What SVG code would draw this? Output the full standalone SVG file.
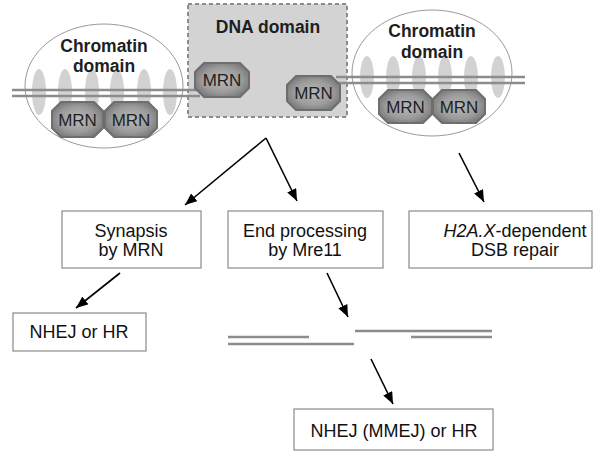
<svg xmlns="http://www.w3.org/2000/svg" width="600" height="457" viewBox="0 0 600 457">
<style>
.bold{font-family:"Liberation Sans",Arial,sans-serif;font-weight:bold;font-size:17.5px;fill:#1e1e1e;text-anchor:middle}
.mrn{font-family:"Liberation Sans",Arial,sans-serif;font-size:17px;fill:#222;text-anchor:middle}
.lbl{font-family:"Liberation Sans",Arial,sans-serif;font-size:18px;fill:#111;text-anchor:middle}
.box{fill:#fff;stroke:#8a8a8a;stroke-width:1.2}
.dom{fill:#fff;stroke:#9a9a9a;stroke-width:1}
.nuc{fill:#d2d2d2}
.dna{stroke:#8c8c8c;stroke-width:2.5;fill:none}
.oct{fill:url(#mg);stroke:#6e6e6e;stroke-width:2}
.arr{stroke:#000;stroke-width:1.6;fill:none;marker-end:url(#ah)}
</style>
<defs>
<radialGradient id="mg" cx="0.5" cy="0.5" r="0.6">
<stop offset="0" stop-color="#b8b8b8"/>
<stop offset="0.6" stop-color="#9c9c9c"/>
<stop offset="1" stop-color="#727272"/>
</radialGradient>
<marker id="ah" viewBox="0 0 12 10" refX="12" refY="5" markerWidth="12" markerHeight="10" markerUnits="userSpaceOnUse" orient="auto">
<path d="M0,0 L12,5 L0,10 Z" fill="#000"/>
</marker>
</defs>

<g id="chromatin-left">
<ellipse class="dom" cx="104" cy="86" rx="79" ry="62"/>
<ellipse class="nuc" cx="39" cy="92" rx="7" ry="23"/>
<ellipse class="nuc" cx="65" cy="92" rx="7" ry="23"/>
<ellipse class="nuc" cx="92" cy="92" rx="7" ry="23"/>
<ellipse class="nuc" cx="117" cy="92" rx="7" ry="23"/>
<ellipse class="nuc" cx="144" cy="92" rx="7" ry="23"/>
<ellipse class="nuc" cx="170" cy="92" rx="7" ry="23"/>
<text class="bold" x="104" y="52">Chromatin</text>
<text class="bold" x="104" y="72">domain</text>
</g>

<g id="dna-domain">
<rect x="188" y="4" width="159" height="113" fill="#d3d3d3" stroke="#8c8c8c" stroke-width="2" stroke-dasharray="4,3"/>
<text class="bold" x="268" y="33" font-size="19.5">DNA domain</text>
</g>

<g id="chromatin-right">
<ellipse class="dom" cx="432" cy="73" rx="80" ry="63"/>
<ellipse class="nuc" cx="367" cy="77" rx="7" ry="21"/>
<ellipse class="nuc" cx="393" cy="77" rx="7" ry="21"/>
<ellipse class="nuc" cx="419" cy="77" rx="7" ry="21"/>
<ellipse class="nuc" cx="445" cy="77" rx="7" ry="21"/>
<ellipse class="nuc" cx="471" cy="77" rx="7" ry="21"/>
<ellipse class="nuc" cx="498" cy="77" rx="7" ry="21"/>
<text class="bold" x="432" y="37">Chromatin</text>
<text class="bold" x="432" y="58">domain</text>
</g>

<g id="dna-strands">
<line class="dna" x1="12" y1="90" x2="200" y2="90"/>
<line class="dna" x1="12" y1="96" x2="200" y2="96"/>
<line class="dna" x1="336" y1="77" x2="525" y2="77"/>
<line class="dna" x1="336" y1="83" x2="525" y2="83"/>
</g>

<g id="mrn-left-1"><path class="oct" d="M61,102 L94,102 L103,111 L103,128 L94,137 L61,137 L52,128 L52,111 Z"/><text class="mrn" x="77.5" y="126">MRN</text></g>
<g id="mrn-left-2"><path class="oct" d="M114,102 L148,102 L157,111 L157,128 L148,137 L114,137 L105,128 L105,111 Z"/><text class="mrn" x="131" y="126">MRN</text></g>
<g id="mrn-dna-1"><path class="oct" d="M204,63 L240,63 L249,72 L249,88 L240,97 L204,97 L195,88 L195,72 Z"/><text class="mrn" x="222" y="86">MRN</text></g>
<g id="mrn-dna-2"><path class="oct" d="M296,76 L331,76 L340,85 L340,101 L331,110 L296,110 L287,101 L287,85 Z"/><text class="mrn" x="313.5" y="99">MRN</text></g>
<g id="mrn-right-1"><path class="oct" d="M388,90 L423,90 L432,99 L432,114 L423,123 L388,123 L379,114 L379,99 Z"/><text class="mrn" x="405.5" y="113">MRN</text></g>
<g id="mrn-right-2"><path class="oct" d="M442,90 L476,90 L485,99 L485,114 L476,123 L442,123 L433,114 L433,99 Z"/><text class="mrn" x="459" y="113">MRN</text></g>

<g id="box-synapsis">
<rect class="box" x="62" y="211" width="139" height="57"/>
<text class="lbl" x="131" y="237">Synapsis</text>
<text class="lbl" x="131" y="256">by MRN</text>
</g>
<g id="box-endproc">
<rect class="box" x="228" y="211" width="155" height="57"/>
<text class="lbl" x="305" y="237">End processing</text>
<text class="lbl" x="305" y="256">by Mre11</text>
</g>
<g id="box-h2ax">
<rect class="box" x="409" y="211" width="183" height="57"/>
<text class="lbl" x="515" y="237"><tspan font-style="italic">H2A.X</tspan>-dependent</text>
<text class="lbl" x="515" y="256">DSB repair</text>
</g>
<g id="box-nhej">
<rect class="box" x="13" y="313" width="133" height="38"/>
<text class="lbl" x="79" y="338">NHEJ or HR</text>
</g>
<g id="box-mmej">
<rect class="box" x="294" y="409" width="199" height="41"/>
<text class="lbl" x="394" y="437">NHEJ (MMEJ) or HR</text>
</g>

<g id="broken-dna">
<line class="dna" x1="228" y1="337" x2="309" y2="337" stroke-width="2"/>
<line class="dna" x1="228" y1="344" x2="354" y2="344" stroke-width="2"/>
<line class="dna" x1="355" y1="331" x2="492" y2="331" stroke-width="2"/>
<line class="dna" x1="411" y1="337" x2="492" y2="337" stroke-width="2"/>
</g>

<g id="connectors">
<line class="arr" x1="266" y1="138" x2="185" y2="205"/>
<line class="arr" x1="266" y1="138" x2="297" y2="201"/>
<line class="arr" x1="459" y1="153" x2="484" y2="202"/>
<line class="arr" x1="120" y1="273" x2="76" y2="308"/>
<line class="arr" x1="327" y1="273" x2="348" y2="317"/>
<line class="arr" x1="371" y1="359" x2="393" y2="404"/>
</g>
</svg>
